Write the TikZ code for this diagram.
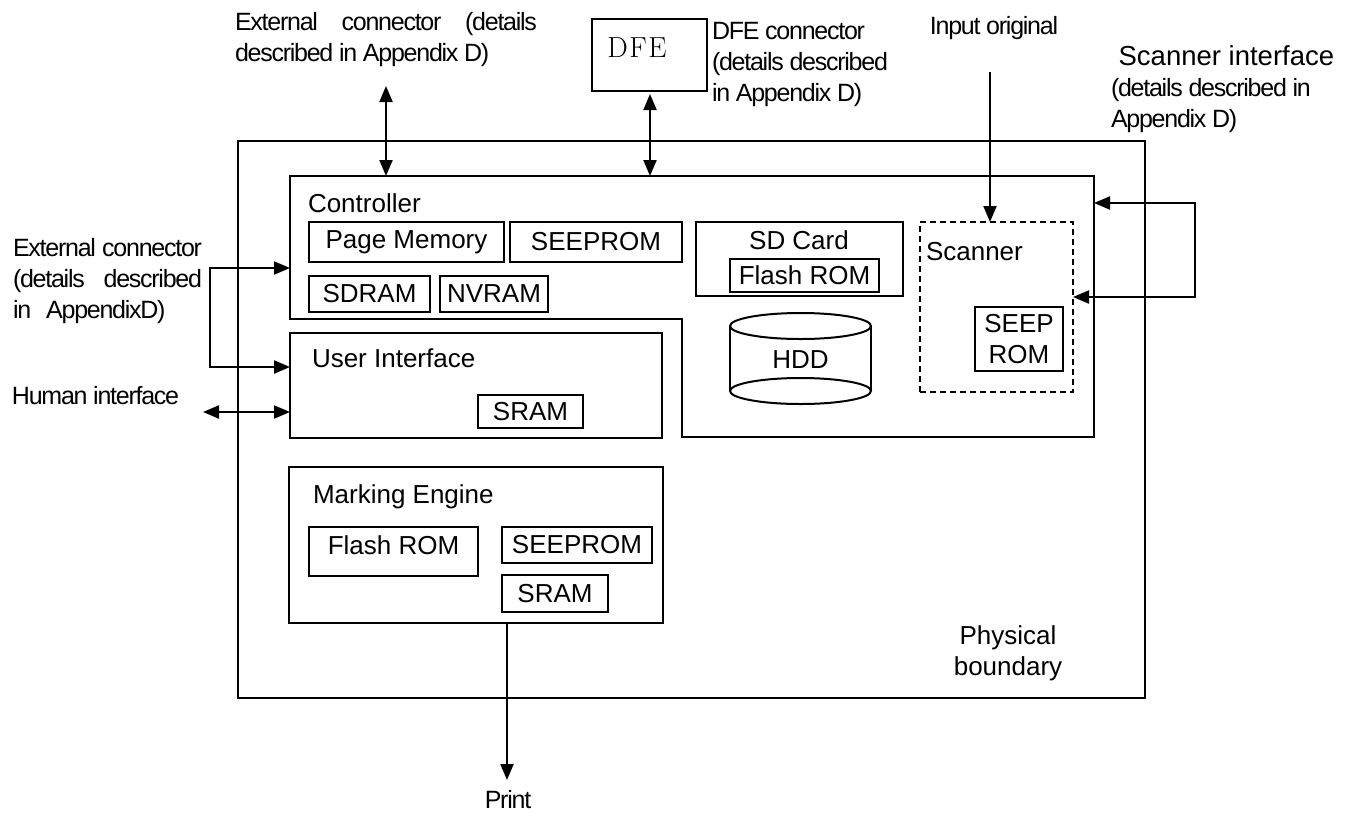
\documentclass[tikz,border=0pt]{standalone}
\usepackage{fontspec}
\setsansfont{Liberation Sans}
\renewcommand\familydefault{\sfdefault}
\newfontfamily\narrowfont[LetterSpace=-5]{Liberation Sans}
\usetikzlibrary{arrows.meta}
\begin{document}
\begin{tikzpicture}[x=1pt,y=-1pt,
  every node/.style={inner sep=0pt,outer sep=0pt},
  box/.style={draw,line width=2pt,rectangle,anchor=north west,font=\fontsize{26}{31}\selectfont},
  lbl/.style={font=\fontsize{26}{31}\selectfont},
  nlbl/.style={font=\narrowfont\fontsize{25}{31}\selectfont,align=left},
  arr/.style={line width=2pt,-{Triangle[length=16pt,width=13pt]}},
  dbl/.style={line width=2pt,{Triangle[length=16pt,width=13pt]}-{Triangle[length=16pt,width=13pt]}},
]
\useasboundingbox (0,0) rectangle (1355,812);

% physical boundary
\node[box,minimum width=907pt,minimum height=557pt] (phys) at (238,141) {};
\node[lbl,align=center] (physlbl) at (1008,653) {Physical\\boundary};

% controller (L-shaped)
\node[anchor=north west,minimum width=804pt,minimum height=261pt] (ctrl) at (290,176) {};
\draw[line width=2pt] (290,176) -- (1094,176) -- (1094,437) -- (682,437) -- (682,319) -- (290,319) -- cycle;
\node[lbl,anchor=west] (ctrllbl) at (308,203) {Controller};
\node[box,minimum width=195pt,minimum height=40pt] (pm) at (309,222) {Page Memory};
\node[box,minimum width=172pt,minimum height=40pt] (seeprom1) at (510,222) {SEEPROM};
\node[box,minimum width=121pt,minimum height=36pt] (sdram) at (309,276) {SDRAM};
\node[box,minimum width=108pt,minimum height=36pt] (nvram) at (440,276) {NVRAM};

% SD card
\node[box,minimum width=207pt,minimum height=74pt] (sdcard) at (696,222) {};
\node[lbl] (sdlbl) at (799,240) {SD Card};
\node[box,minimum width=149pt,minimum height=33pt] (flash1) at (730,259) {Flash ROM};

% HDD
\draw[line width=2pt] (730,326) -- (730,391) (871,326) -- (871,391);
\draw[line width=2pt,fill=white] (800.5,391) ellipse [x radius=70.5pt,y radius=13pt];
\draw[line width=2pt,fill=white] (800.5,326) ellipse [x radius=70.5pt,y radius=13pt];
\node[lbl] (hdd) at (800.5,360) {HDD};

% scanner
\node[box,dashed,dash pattern=on 6pt off 4pt,minimum width=153pt,minimum height=170pt] (scan) at (920,222) {};
\node[lbl,anchor=west] (scanlbl) at (926,252) {Scanner};
\node[box,minimum width=88pt,minimum height=64pt,align=center] (seeps) at (975,307) {SEEP\\ROM};

% user interface
\node[box,minimum width=372pt,minimum height=105pt] (ui) at (290,333) {};
\node[lbl,anchor=west] (uilbl) at (312,358) {User Interface};
\node[box,minimum width=105pt,minimum height=33pt] (sram1) at (478,395) {SRAM};

% marking engine
\node[box,minimum width=374pt,minimum height=156pt] (me) at (289,467) {};
\node[lbl,anchor=west] (melbl) at (313,497) {Marking Engine};
\node[box,minimum width=169pt,minimum height=49pt] (flash2) at (309,527) {};
\node[lbl] (flash2lbl) at (393.5,545) {Flash ROM};
\node[box,minimum width=150pt,minimum height=36pt] (seeprom2) at (502,527) {SEEPROM};
\node[box,minimum width=106pt,minimum height=37pt] (sram2) at (502,575) {SRAM};

% DFE
\node[box,minimum width=115pt,minimum height=72pt] (dfe) at (592,19) {};
\node[font=\rmfamily\fontsize{29}{32}\selectfont] (dfelbl) at (637,48) {D\hskip 1.5pt F\hskip 1.5pt E};

% labels
\node[nlbl,anchor=west] (exttop) at (235,40) {\hbox to 302pt{External\hfill connector\hfill (details}\\described in Appendix D)};
\node[nlbl,anchor=west] (dfecon) at (712,64) {DFE connector\\(details described\\in Appendix D)};
\node[nlbl] (inlbl) at (994,28) {Input original};
\node[nlbl,anchor=west] (silbl) at (1111,89) {{\normalfont\fontsize{27.5}{31}\selectfont\ Scanner interface}\\(details described in\\Appendix D)};
\node[nlbl,anchor=west] (extleft) at (13,281) {\hbox to 189pt{External\hfill connector}\\\hbox to 189pt{(details\hfill described}\\in\hskip 15pt AppendixD)};
\node[nlbl,anchor=west] (human) at (12,396) {Human interface};
\node[nlbl] (print) at (508,800) {Print};

% connectors
\coordinate (extTopEnd) at (386,86);
\draw[dbl] (extTopEnd) -- (extTopEnd |- ctrl.north);
\coordinate (dfeA) at (650,94);
\draw[dbl] (dfeA) -- (dfeA |- ctrl.north);
\coordinate (inTop) at (990,72);
\draw[arr] (inTop) -- (inTop |- scan.north);
\coordinate (si1) at (1195,203);
\coordinate (si2) at (1195,297);
\draw[dbl] (si1 -| ctrl.east) -- (si1) -- (si2) -- (si2 -| scan.east);
\coordinate (lb1) at (210,268);
\coordinate (lb2) at (210,367);
\draw[dbl] (lb1 -| ctrl.west) -- (lb1) -- (lb2) -- (lb2 -| ui.west);
\coordinate (hum) at (203,412);
\draw[dbl] (hum) -- (hum -| ui.west);
\coordinate (printTip) at (507,780);
\draw[arr] (printTip |- me.south) -- (printTip);
\end{tikzpicture}
\end{document}
